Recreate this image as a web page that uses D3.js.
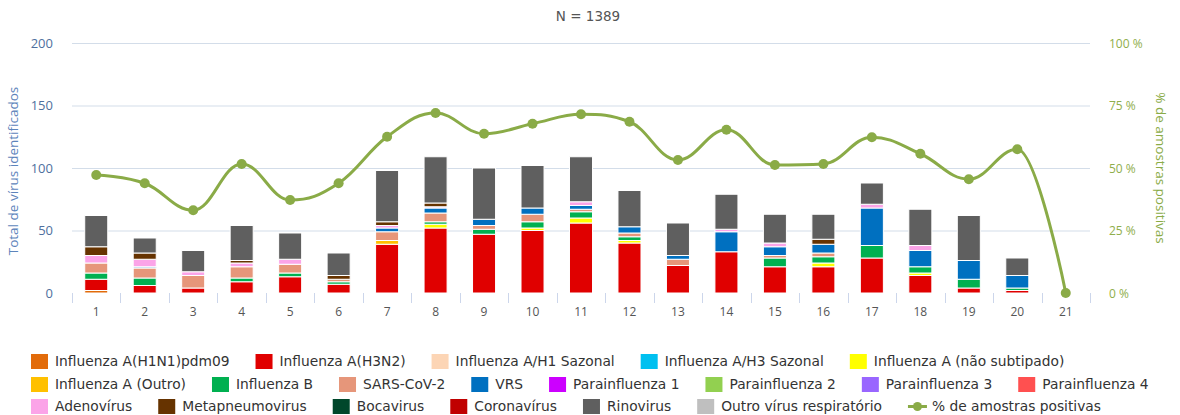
<!DOCTYPE html>
<html><head><meta charset="utf-8">
<script src="https://cdn.jsdelivr.net/npm/d3@7"></script>
<style>body{margin:0;background:#fff}svg{display:block}</style>
</head><body><svg id="c" width="1180" height="415"></svg>
<script>
const categories = ["1","2","3","4","5","6","7","8","9","10","11","12","13","14","15","16","17","18","19","20","21"];
const seriesNames = ["Influenza A(H1N1)pdm09","Influenza A(H3N2)","Influenza A/H1 Sazonal","Influenza A/H3 Sazonal","Influenza A (não subtipado)","Influenza A (Outro)","Influenza B","SARS-CoV-2","VRS","Parainfluenza 1","Parainfluenza 2","Parainfluenza 3","Parainfluenza 4","Adenovírus","Metapneumovirus","Bocavirus","Coronavírus","Rinovirus","Outro vírus respiratório"];
const seriesColors = ["#e26b0a","#e00000","#fcd5b5","#00c0f0","#ffff00","#ffc000","#00b050","#e6967a","#0070c0","#cc00ff","#92d050","#9966ff","#ff5050","#fba4e8","#663300","#00472b","#c00000","#5f5f5f","#bfbfbf"];
const h1n1    = [2,0,0,0,0,0,0,0,0,0,0,0,0,0,0,0,0,0,0,0,0];
const h3n2    = [9,6,4,9,13,7,39,52,47,50,56,40,22,33,21,21,28,14,4,2,0];
const h1saz   = [0,0,0,0,0,0,0,0,0,0,0,0,0,0,0,0,0,0,0,0,0];
const h3saz   = [0,0,0,0,0,0,0,0,0,0,0,0,0,0,0,0,0,0,0,0,0];
const aNaoSub = [0,0,0,0,0,0,0,3,0,2,4,2,0,0,0,3,0,2,0,0,0];
const aOutro  = [0,0,0,0,0,0,3,0,0,0,0,0,0,0,0,0,0,0,0,0,0];
const fluB    = [5,6,0,3,3,2,0,2,4,5,5,3,0,0,7,5,10,5,7,2,0];
const sars    = [8,8,10,9,7,2,7,7,3,6,2,3,5,0,2,3,0,0,0,0,0];
const vrs     = [0,1,0,0,0,0,3,4,5,5,3,5,3,16,7,7,30,13,15,10,0];
const para1   = [0,0,0,0,0,0,0,0,0,0,0,0,0,0,0,0,0,0,0,0,0];
const para2   = [0,0,0,0,0,0,0,0,0,0,0,0,0,0,0,0,0,0,0,0,0];
const para3   = [0,0,0,0,0,0,0,0,0,0,0,0,0,0,0,0,0,0,0,0,0];
const para4   = [0,0,0,0,0,0,0,0,0,0,0,0,0,0,0,0,0,0,0,0,0];
const adeno   = [6,6,3,3,4,0,2,1,0,0,3,0,0,2,3,0,3,4,0,0,0];
const metap   = [7,5,0,2,0,3,3,3,0,0,0,0,0,0,0,4,0,0,0,0,0];
const boca    = [0,0,0,0,0,0,0,0,0,0,0,0,0,0,0,0,0,0,0,0,0];
const corona  = [0,0,0,0,0,0,0,0,0,0,0,0,0,0,0,0,0,0,0,0,0];
const rino    = [25,12,17,28,21,18,41,37,41,34,36,29,26,28,23,20,17,29,36,14,0];
const outro   = [0,0,0,0,0,0,0,0,0,0,0,0,0,0,0,0,0,0,0,0,0];
const pctPositive = [47.2,43.9,33.1,51.6,37.2,43.9,62.5,72,63.7,67.7,71.5,68.5,53.2,65.3,51.2,51.6,62.3,55.7,45.5,57.5,0];
const leftTicks = [0,50,100,150,200];
const rightTicks = [0,25,50,75,100];
const lineName = "% de amostras positivas";
const lineColor = "#8aab47";

const seriesValues = [h1n1,h3n2,h1saz,h3saz,aNaoSub,aOutro,fluB,sars,vrs,para1,para2,para3,para4,adeno,metap,boca,corona,rino,outro];

const svg = d3.select("#c");
const L = 72, R = 1090, T = 43, B = 293;
const x = d3.scaleBand().domain(categories).range([L, R]).paddingInner(0.525).paddingOuter(0.2625);
const y = d3.scaleLinear().domain([0,200]).range([B, T]);
const y2 = d3.scaleLinear().domain([0,100]).range([B, T]);

// title
svg.append("text").attr("x", 588).attr("y", 21).attr("text-anchor","middle")
  .attr("font-family","DejaVu Sans").attr("font-size",13.5).attr("fill","#555").text("N = 1389");

// grid
svg.append("g").selectAll("line").data(leftTicks.filter(d=>d>0)).join("line")
  .attr("x1",L).attr("x2",R).attr("y1",d=>y(d)+0.5).attr("y2",d=>y(d)+0.5)
  .attr("stroke","#d3dde9").attr("stroke-width",1);

// left axis labels
svg.append("g").selectAll("text").data(leftTicks).join("text")
  .attr("x",53).attr("y",d=>y(d)+4.5).attr("text-anchor","end")
  .attr("font-family","Open Sans").attr("font-size",13).attr("fill","#4f6f9e").text(d=>d);
svg.append("text").attr("transform",`translate(17.5,${(T+B)/2+3}) rotate(-90)`).attr("text-anchor","middle")
  .attr("font-family","Open Sans").attr("font-size",13.5).attr("fill","#5d84bb").text("Total de vírus identificados");

// right axis labels
svg.append("g").selectAll("text").data(rightTicks).join("text")
  .attr("x",1109).attr("y",d=>y2(d)+4.5).attr("text-anchor","start")
  .attr("font-family","Open Sans").attr("font-size",12).attr("fill","#8fae4c").text(d=>d+" %");
svg.append("text").attr("transform",`translate(1156,${(T+B)/2}) rotate(90)`).attr("text-anchor","middle")
  .attr("font-family","Open Sans").attr("font-size",13.5).attr("fill","#8aab47").text("% de amostras positivas");

// x ticks
const step = x.step();
const tickPos = d3.range(categories.length+1).map(i => L + i*step);
svg.append("g").selectAll("line").data(tickPos).join("line")
  .attr("x1",d=>Math.round(d)+0.5).attr("x2",d=>Math.round(d)+0.5).attr("y1",B).attr("y2",B+10)
  .attr("stroke","#ccd6eb").attr("stroke-width",1);
svg.append("g").selectAll("text").data(categories).join("text")
  .attr("x",d=>x(d)+x.bandwidth()/2).attr("y",B+23).attr("text-anchor","middle")
  .attr("font-family","Open Sans").attr("font-size",12).attr("fill","#555").text(d=>d);

// stacked bars
const table = categories.map((c,i)=>{ const o={cat:c}; seriesNames.forEach((s,j)=>o[s]=seriesValues[j][i]); return o; });
const stack = d3.stack().keys(seriesNames)(table);
svg.append("g").selectAll("g").data(stack).join("g").attr("fill",(d,i)=>seriesColors[i])
  .selectAll("rect").data(d=>d.filter(p=>p[1]-p[0]>0)).join("rect")
  .attr("x",d=>x(d.data.cat)).attr("width",x.bandwidth())
  .attr("y",d=>y(d[1])).attr("height",d=>y(d[0])-y(d[1]))
  .attr("stroke","#fff").attr("stroke-width",1);

// spline (Highcharts-like)
const pts = pctPositive.map((v,i)=>({x:x(categories[i])+x.bandwidth()/2, y:y2(v)}));
function splinePath(p){
  const sm=1.5, den=sm+1; let d=`M${p[0].x},${p[0].y}`;
  for(let i=1;i<p.length;i++){
    const pt=p[i], last=p[i-1], next=p[i+1];
    let lcx, lcy;
    if(next){
      lcx=(sm*pt.x+last.x)/den; lcy=(sm*pt.y+last.y)/den;
      let rcx=(sm*pt.x+next.x)/den, rcy=(sm*pt.y+next.y)/den;
      let corr=0;
      if(rcx!==lcx) corr=((rcy-lcy)*(rcx-pt.x))/(rcx-lcx)+pt.y-rcy;
      lcy+=corr; rcy+=corr;
      if(lcy>last.y && lcy>pt.y){lcy=Math.max(last.y,pt.y); rcy=2*pt.y-lcy;}
      else if(lcy<last.y && lcy<pt.y){lcy=Math.min(last.y,pt.y); rcy=2*pt.y-lcy;}
      if(rcy>next.y && rcy>pt.y){rcy=Math.max(next.y,pt.y); lcy=2*pt.y-rcy;}
      else if(rcy<next.y && rcy<pt.y){rcy=Math.min(next.y,pt.y); lcy=2*pt.y-rcy;}
      pt.rcx=rcx; pt.rcy=rcy;
    } else { lcx=pt.x; lcy=pt.y; }
    const c1x = last.rcx!==undefined?last.rcx:last.x, c1y = last.rcy!==undefined?last.rcy:last.y;
    d+=`C${c1x},${c1y},${lcx},${lcy},${pt.x},${pt.y}`;
  }
  return d;
}
svg.append("path").attr("d",splinePath(pts)).attr("fill","none").attr("stroke",lineColor).attr("stroke-width",3);
svg.append("g").selectAll("circle").data(pts).join("circle")
  .attr("cx",d=>d.x).attr("cy",d=>d.y).attr("r",5).attr("fill",lineColor);

// legend
const rows = [[0,1,2,3,4],[5,6,7,8,9,10,11,12],[13,14,15,16,17,18,19]];
const rowY = [361, 384, 406];
const lg = svg.append("g").attr("font-family","DejaVu Sans").attr("font-size",13.8).attr("fill","#333");
rows.forEach((r,ri)=>{
  let cx = 31;
  r.forEach(idx=>{
    const yy = rowY[ri];
    const name = idx<seriesNames.length ? seriesNames[idx] : lineName;
    if(idx<seriesNames.length){
      lg.append("rect").attr("x",cx).attr("y",yy-7).attr("width",17).attr("height",15).attr("fill",seriesColors[idx]);
    } else {
      lg.append("line").attr("x1",cx).attr("x2",cx+19).attr("y1",yy+0.5).attr("y2",yy+0.5).attr("stroke",lineColor).attr("stroke-width",3);
      lg.append("circle").attr("cx",cx+9.5).attr("cy",yy+0.5).attr("r",4.5).attr("fill",lineColor);
    }
    const t = lg.append("text").attr("x",cx+24).attr("y",yy+5).text(name);
    const w = t.node().getComputedTextLength();
    cx = cx + 24 + w + 26;
  });
});
</script></body></html>
